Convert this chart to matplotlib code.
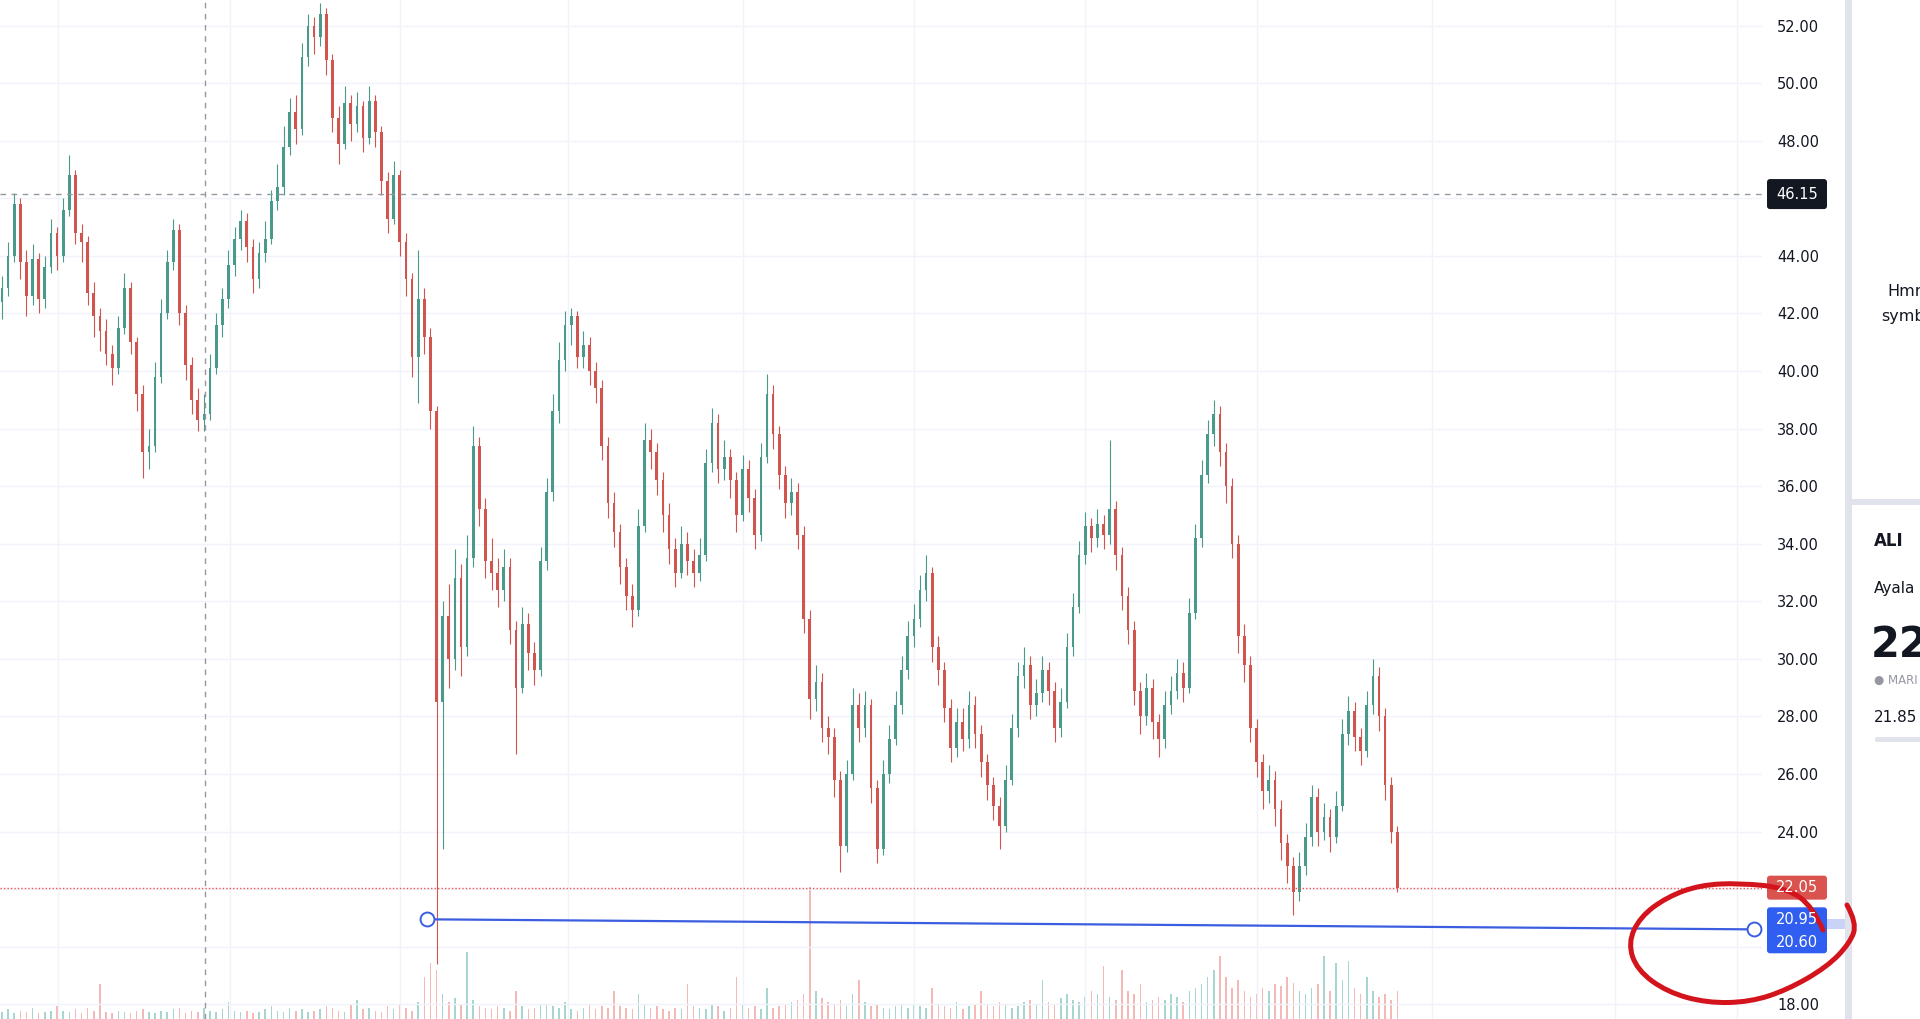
import matplotlib.pyplot as plt
import numpy as np
from matplotlib.patches import FancyBboxPatch, Rectangle, PathPatch
from matplotlib.path import Path

plt.rcParams['font.family'] = ['DejaVu Sans']

W, H = 1920, 1019
PANE_R = 1762      # right edge of the chart pane (px)
BAR_PX = 6.12      # px per candle
X0_PX = 2

# daily candles (oldest -> newest)
closes = [
    42.9, 44.0, 45.8, 43.8, 42.6, 43.9, 42.5, 43.6, 44.8, 44.0,
    45.6, 46.8, 44.8, 44.5, 42.7, 41.9, 41.4, 40.6, 40.1, 41.5,
    42.9, 41.0, 39.2, 37.2, 37.4, 39.8, 42.0, 43.8, 44.9, 42.0,
    40.2, 39.0, 38.3, 38.5, 40.1, 41.6, 42.5, 43.7, 44.6, 45.2,
    44.3, 43.2, 44.1, 44.6, 45.9, 46.4, 47.8, 49.0, 48.4, 50.9,
    52.0, 51.6, 52.4, 50.8, 48.8, 47.9, 49.3, 48.6, 49.2, 48.1,
    49.4, 48.3, 46.6, 45.3, 46.8, 44.5, 43.2, 40.5, 42.5, 41.2,
    38.6, 28.5, 31.5, 30.0, 32.8, 30.4, 33.5, 37.4, 35.2, 33.4,
    33.0, 32.4, 33.2, 31.0, 29.0, 31.2, 30.2, 29.6, 33.4, 35.8,
    38.6, 40.4, 41.6, 41.9, 40.5, 40.9, 40.0, 39.4, 37.4, 35.4,
    34.4, 33.2, 32.2, 31.7, 34.6, 37.6, 37.2, 36.2, 35.0, 33.8,
    33.0, 34.0, 33.4, 33.0, 33.6, 36.8, 38.2, 36.6, 37.0, 36.2,
    35.0, 36.6, 35.6, 34.3, 37.0, 39.2, 37.8, 36.4, 35.4, 35.8,
    34.3, 31.4, 28.6, 29.2, 27.6, 27.3, 25.8, 23.5, 26.0, 28.4,
    27.6, 28.4, 25.5, 23.4, 26.0, 27.2, 28.4, 29.6, 30.8, 31.4,
    32.4, 33.0, 30.4, 29.6, 28.3, 26.9, 27.8, 27.2, 28.4, 27.4,
    26.4, 25.6, 24.9, 24.2, 25.8, 27.6, 29.4, 29.8, 28.4, 28.8,
    29.6, 28.9, 27.6, 28.5, 30.4, 31.8, 33.6, 34.6, 34.2, 34.7,
    34.3, 35.2, 33.6, 32.2, 31.0, 28.9, 28.0, 29.0, 27.8, 27.2,
    28.4, 28.9, 29.5, 29.0, 31.6, 34.2, 36.4, 37.8, 38.5, 37.2,
    36.0, 34.0, 30.8, 29.8, 27.6, 26.4, 25.4, 25.8, 24.8, 23.6,
    22.8, 21.9, 22.8, 23.8, 25.2, 24.0, 24.5, 23.8, 24.9, 27.4,
    28.2, 27.3, 26.8, 28.4, 29.4, 28.0, 25.6, 24.0, 22.05,
]
highs = [
    43.3, 44.5, 46.2, 46.0, 44.2, 44.4, 44.1, 44.0, 45.3, 45.0,
    46.0, 47.5, 47.0, 45.1, 44.7, 43.1, 42.2, 41.8, 40.9, 41.9,
    43.4, 43.1, 41.2, 39.5, 38.0, 40.3, 42.5, 44.2, 45.3, 45.1,
    42.3, 40.5, 39.4, 39.2, 40.6, 42.0, 42.9, 44.2, 45.0, 45.6,
    45.5, 44.6, 44.5, 45.2, 46.3, 47.2, 48.5, 49.5, 49.6, 51.4,
    52.4, 52.3, 52.8, 52.6, 51.0, 49.2, 49.9, 49.6, 49.7, 49.4,
    49.9, 49.6, 48.5, 46.9, 47.3, 47.0, 44.8, 43.4, 44.2, 42.9,
    41.5, 38.8, 32.0, 32.6, 33.8, 33.3, 34.3, 38.1, 37.7, 35.6,
    34.2, 33.5, 33.8, 33.5, 31.3, 31.8, 31.6, 30.6, 33.9, 36.3,
    39.2, 41.0, 42.1, 42.2, 42.1, 41.4, 41.2, 40.3, 39.7, 37.7,
    35.8, 34.7, 33.5, 32.6, 35.2, 38.2, 38.0, 37.5, 36.5, 35.4,
    34.2, 34.6, 34.4, 33.8, 34.2, 37.3, 38.7, 38.5, 37.6, 37.3,
    36.5, 37.1, 36.9, 35.9, 37.5, 39.9, 39.5, 38.1, 36.7, 36.3,
    36.1, 34.6, 31.7, 29.8, 29.5, 28.0, 27.6, 26.1, 26.5, 29.0,
    28.8, 28.9, 28.6, 25.8, 26.5, 27.7, 28.9, 30.1, 31.3, 31.9,
    32.9, 33.6, 33.2, 30.8, 29.9, 28.6, 28.3, 28.3, 28.9, 28.7,
    27.7, 26.7, 25.9, 25.2, 26.3, 28.1, 29.9, 30.4, 30.1, 29.3,
    30.1, 29.9, 29.2, 29.0, 30.9, 32.3, 34.1, 35.1, 34.9, 35.2,
    35.0, 37.6, 35.5, 33.9, 32.5, 31.3, 29.2, 29.5, 29.3, 28.1,
    28.9, 29.4, 30.0, 29.9, 32.1, 34.7, 36.9, 38.3, 39.0, 38.8,
    37.5, 36.3, 34.3, 31.2, 30.1, 27.9, 26.7, 26.3, 26.1, 25.1,
    23.9, 23.1, 23.3, 24.3, 25.6, 25.5, 25.0, 24.8, 25.4, 27.9,
    28.7, 28.5, 27.6, 28.9, 30.0, 29.7, 28.3, 25.9, 24.2,
]
lows = [
    41.8, 42.6, 43.8, 43.2, 41.9, 42.3, 42.0, 42.2, 43.4, 43.5,
    43.8, 45.4, 44.4, 43.8, 42.3, 41.2, 40.7, 40.2, 39.5, 39.9,
    41.3, 40.6, 38.6, 36.3, 36.6, 37.2, 39.6, 41.8, 43.5, 41.6,
    39.7, 38.5, 37.9, 37.9, 38.3, 39.9, 41.2, 42.2, 43.3, 44.2,
    43.8, 42.7, 42.9, 43.8, 44.4, 45.6, 46.1, 47.5, 47.9, 48.2,
    50.6, 51.0, 51.3, 50.3, 48.3, 47.2, 47.7, 48.0, 48.3, 47.6,
    47.9, 47.8, 46.1, 44.8, 45.1, 44.0, 42.6, 39.8, 38.9, 40.6,
    38.0, 19.4, 23.4, 29.0, 29.6, 29.4, 30.1, 33.2, 34.6, 32.8,
    32.4, 31.8, 32.0, 30.5, 26.7, 28.8, 29.6, 29.1, 29.4, 33.1,
    35.5, 38.2, 40.0, 40.9, 40.1, 40.1, 39.5, 38.9, 36.9, 34.9,
    33.9, 32.6, 31.7, 31.1, 31.5, 34.4, 36.6, 35.7, 34.4, 33.3,
    32.5, 32.8, 32.9, 32.5, 32.7, 33.4, 36.5, 36.1, 36.2, 35.6,
    34.4, 34.8, 35.1, 33.8, 34.1, 36.8, 37.3, 35.9, 34.9, 35.0,
    33.8, 30.9, 27.9, 28.2, 27.1, 26.7, 25.2, 22.6, 23.3, 25.8,
    27.1, 27.3, 25.0, 22.9, 23.2, 25.7, 27.0, 28.1, 29.3, 30.4,
    31.1, 32.0, 29.9, 29.1, 27.8, 26.4, 26.6, 26.8, 26.9, 26.9,
    25.9, 25.1, 24.4, 23.4, 24.0, 25.6, 27.3, 29.0, 27.9, 28.0,
    28.5, 28.4, 27.1, 27.3, 28.3, 30.1, 31.6, 33.3, 33.7, 33.9,
    33.8, 34.0, 33.1, 31.7, 30.5, 28.4, 27.4, 27.7, 27.2, 26.6,
    26.9, 28.1, 28.6, 28.5, 28.8, 31.4, 33.9, 36.1, 37.4, 36.7,
    35.4, 33.5, 30.2, 29.2, 27.1, 25.9, 24.8, 25.0, 24.2, 23.0,
    22.2, 21.1, 21.6, 22.5, 23.5, 23.5, 23.7, 23.3, 23.6, 24.7,
    27.0, 26.8, 26.3, 26.6, 28.1, 27.5, 25.1, 23.6, 21.9,
]
volumes = [
    5, 7, 4, 6, 5, 8, 4, 5, 6, 9,
    6, 5, 7, 4, 8, 6, 25, 5, 4, 6,
    5, 4, 6, 7, 5, 4, 6, 5, 7, 8,
    4, 6, 5, 8, 6, 5, 7, 12, 6, 5,
    6, 4, 5, 7, 9, 6, 5, 8, 6, 7,
    5, 6, 7, 9, 8, 6, 5, 10, 14, 7,
    8, 6, 5, 9, 7, 10, 8, 6, 12, 30,
    40, 35, 18, 12, 15, 10, 48, 14, 9, 8,
    7, 9, 8, 6, 20, 9, 7, 8, 10, 11,
    9, 8, 12, 7, 6, 8, 10, 7, 9, 8,
    20, 9, 8, 7, 18, 10, 8, 9, 7, 6,
    8, 7, 25, 9, 8, 7, 10, 9, 6, 8,
    30, 10, 8, 9, 7, 22, 8, 9, 10, 12,
    14, 18, 95, 20, 15, 12, 10, 14, 9, 18,
    28, 12, 9, 10, 8, 7, 9, 11, 8, 10,
    9, 8, 22, 10, 9, 8, 12, 7, 9, 10,
    20, 11, 9, 12, 10, 8, 9, 12, 14, 10,
    28, 12, 10, 15, 18, 14, 12, 16, 20, 18,
    38, 16, 14, 35, 20, 18, 25, 12, 14, 16,
    14, 18, 16, 12, 20, 22, 25, 30, 35, 45,
    30, 22, 28, 20, 16, 18, 22, 20, 25, 24,
    30, 26, 20, 18, 22, 25, 45, 20, 40, 28,
    42, 22, 18, 30, 20, 16, 18, 14, 20,
]
first_open = 42.4

price_ticks = list(range(18, 54, 2))
hidden_ticks = [20, 22, 46]
last_price = 22.05
cross_price = 46.15
cross_bar = 33.2
range_prices = (20.95, 20.60)
range_bars = (69.4, 286.3)
grid_bars = [9.15, 37.25, 65.0, 92.5, 121.1, 149.0, 176.9, 205.1, 233.7, 263.6, 283.5]

assert len(closes) == len(highs) == len(lows) == len(volumes)

closes = np.array(closes)
opens = np.concatenate([[first_open], closes[:-1]])
highs = np.maximum(np.array(highs), np.maximum(opens, closes))
lows = np.minimum(np.array(lows), np.minimum(opens, closes))
idx = np.arange(len(closes))
up = closes >= opens

UP, DOWN = '#4a9a8c', '#d2544f'
cols = np.where(up, UP, DOWN)
vcols = np.where(up, '#a6d6cf', '#f2b9b7')

fig = plt.figure(figsize=(W / 100, H / 100), dpi=100)
fig.patch.set_facecolor('white')

xlim = (-X0_PX / BAR_PX, (PANE_R - X0_PX) / BAR_PX)

# volume pane at the bottom
vax = fig.add_axes([0, 0, PANE_R / W, 139 / H], zorder=0)
vax.set_facecolor('none')
vax.bar(idx, volumes, width=0.25, color=vcols, linewidth=0)
vax.set_xlim(*xlim)
vax.set_ylim(0, 100)
vax.axis('off')

# price pane
ax = fig.add_axes([0, 0, PANE_R / W, 1], zorder=1)
ax.set_facecolor('none')
ax.set_xlim(*xlim)
ax.set_ylim(17.486, 52.893)
for s in ax.spines.values():
    s.set_visible(False)
ax.yaxis.tick_right()
ax.set_yticks(price_ticks)
ax.set_yticklabels(['' if t in hidden_ticks else '%.2f' % t for t in price_ticks])
ax.tick_params(axis='y', length=0, pad=11, labelsize=10.5, labelcolor='#131722')
ax.tick_params(axis='x', bottom=False, labelbottom=False)
ax.set_axisbelow(True)
ax.grid(axis='y', color='#f0f3fa', lw=1)
for g in grid_bars:
    ax.axvline(g, color='#f0f3fa', lw=1, zorder=0)

ax.vlines(idx, lows, highs, colors=cols, lw=0.8, zorder=2)
ax.bar(idx, np.maximum(np.abs(closes - opens), 0.05), bottom=np.minimum(opens, closes),
       width=0.45, color=cols, linewidth=0, zorder=3)

# crosshair and last price line
ax.axvline(cross_bar, color='#9598a1', lw=1, ls=(0, (4, 4)), zorder=4)
ax.axhline(cross_price, color='#9598a1', lw=1, ls=(0, (4, 4)), zorder=4)
ax.axhline(last_price, color='#ef5350', lw=1, ls=(0, (1, 1.5)), zorder=4)

# price range drawing
BLUE = '#3b5ee0'
ax.plot(range_bars, range_prices, color=BLUE, lw=1.6, zorder=5)
ax.plot(range_bars, range_prices, ls='none', marker='o', ms=10, mfc='white', mec=BLUE,
        mew=1.4, zorder=6, clip_on=False)

# overlay in pixel coordinates for labels / side panel
ov = fig.add_axes([0, 0, 1, 1], zorder=5)
ov.set_facecolor('none')
ov.set_xlim(0, W)
ov.set_ylim(H, 0)
ov.axis('off')


def py(p):
    return H - ax.transData.transform((0, p))[1]


def box(y0, h, color):
    ov.add_patch(FancyBboxPatch((1767, y0), 60, h, boxstyle='round,pad=0,rounding_size=3',
                                fc=color, ec='none'))


yc = py(cross_price)
box(yc - 15, 30, '#131722')
ov.text(1797, yc, '%.2f' % cross_price, color='white', fontsize=10.5, ha='center', va='center')

yl = py(last_price)
box(yl - 12, 24, '#d9534f')
ov.text(1797, yl, '%.2f' % last_price, color='white', fontsize=10.5, ha='center', va='center')

y1, y2 = py(range_prices[0]), py(range_prices[1])
ov.add_patch(Rectangle((1827, y1), 20, y2 - y1, fc='#c9d3f8', ec='none'))
box(y1 - 12, 46, '#2f5ef0')
ov.text(1797, y1, '%.2f' % range_prices[0], color='white', fontsize=10.5, ha='center', va='center')
ov.text(1797, y1 + 23, '%.2f' % range_prices[1], color='white', fontsize=10.5, ha='center', va='center')

# right side panel
ov.add_patch(Rectangle((1852, 0), W - 1852, H, fc='white', ec='none'))
ov.add_patch(Rectangle((1845, 0), 7, H, fc='#e0e3eb', ec='none'))
ov.add_patch(Rectangle((1852, 499), W - 1852, 6, fc='#e0e3eb', ec='none'))
ov.text(1887, 291, 'Hmm', fontsize=11.5, color='#131722', va='center')
ov.text(1881, 316, 'symb', fontsize=11.5, color='#131722', va='center')
ov.text(1874, 541, 'ALI', fontsize=12, fontweight='bold', color='#131722', va='center')
ov.text(1874, 589, 'Ayala', fontsize=11, color='#131722', va='center')
ov.text(1871, 645, '22', fontsize=30, fontweight='bold', color='#131722', va='center')
ov.text(1874, 680, '\u25cf MARI', fontsize=8.5, color='#9598a1', va='center')
ov.text(1874, 718, '21.85', fontsize=11, color='#131722', va='center')
ov.add_patch(FancyBboxPatch((1875, 737), 60, 5, boxstyle='round,pad=0,rounding_size=2',
                            fc='#e0e3eb', ec='none'))

# hand drawn red loop around the range labels
loop = [(1823, 930), (1813, 907), (1787, 888), (1740, 883), (1700, 885), (1667, 897),
        (1640, 917), (1628, 943), (1637, 970), (1667, 992), (1707, 1003), (1750, 1002),
        (1787, 990), (1827, 967), (1850, 943), (1857, 923), (1847, 905)]
verts = [loop[0]]
codes = [Path.MOVETO]
for k in range(1, len(loop) - 1):
    if k < len(loop) - 2:
        end = ((loop[k][0] + loop[k + 1][0]) / 2, (loop[k][1] + loop[k + 1][1]) / 2)
    else:
        end = loop[-1]
    verts += [loop[k], end]
    codes += [Path.CURVE3, Path.CURVE3]
ov.add_patch(PathPatch(Path(verts, codes), fc='none', ec='#d4141c', lw=3.6,
                       capstyle='round', joinstyle='round'))

fig.savefig('out.png', dpi=100, facecolor='white')
